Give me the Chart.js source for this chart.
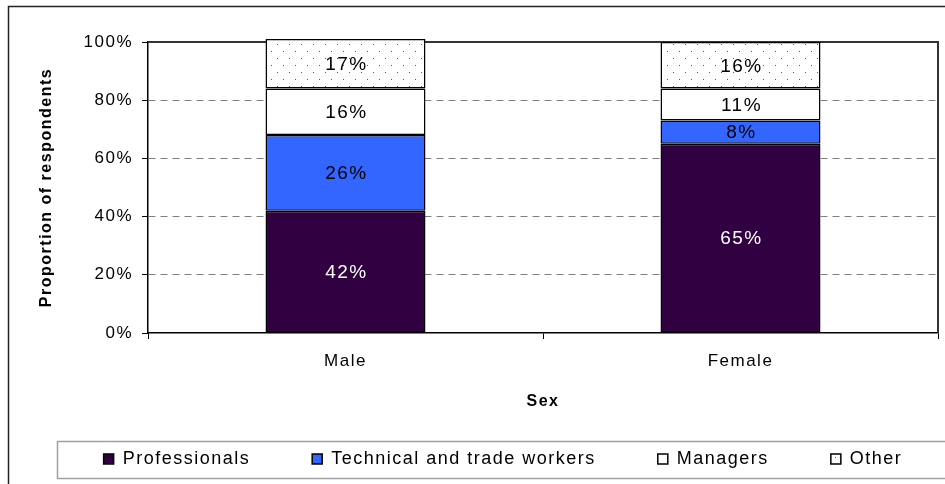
<!DOCTYPE html>
<html>
<head>
<meta charset="utf-8">
<script src="https://cdn.jsdelivr.net/npm/chart.js@4.4.1/dist/chart.umd.min.js"></script>
<style>
  html, body { margin: 0; padding: 0; background: #fff; }
  canvas { display: block; }
</style>
</head>
<body>
<canvas id="chart" width="945" height="484"></canvas>
<script>
// data
const categories = ["Male", "Female"];
const seriesNames = ["Professionals", "Technical and trade workers", "Managers", "Other"];
const professionals = [42, 65];
const technical = [26, 8];
const managers = [16, 11];
const other = [17, 16];
const yTicks = [0, 20, 40, 60, 80, 100];

Chart.defaults.font.family = "'Liberation Sans', Arial, sans-serif";
Chart.defaults.font.size = 17;
Chart.defaults.color = "#000";

// dotted fill for "Other"
function dotPattern() {
  const c = document.createElement("canvas");
  c.width = 12; c.height = 14;
  const g = c.getContext("2d");
  g.fillStyle = "#fff";
  g.fillRect(0, 0, 12, 14);
  g.fillStyle = "#4a5a90";
  g.fillRect(1, 2, 1, 1);
  g.fillRect(7, 9, 1, 1);
  return g.createPattern(c, "repeat");
}

const labelColors = ["#fff", "#000", "#000", "#000"];
const SPACING = "1.5px";

const frame = {
  id: "frame",
  beforeUpdate(chart) { chart.ctx.letterSpacing = SPACING; },
  afterLayout(chart) {
    // legend sits in its own framed strip at the bottom
    const lg = chart.legend;
    const dx = 503 - (lg.left + lg.right) / 2;
    lg.left += dx; lg.right += dx;
    lg.top = 388; lg.bottom = 484;
    lg.height = lg.bottom - lg.top;
  },
  beforeDraw(chart) { chart.ctx.letterSpacing = SPACING; },
  beforeDatasetsDraw(chart) {
    const { ctx, chartArea: a } = chart;
    ctx.save();
    ctx.strokeStyle = "#333";
    ctx.lineWidth = 2;
    ctx.beginPath();
    ctx.moveTo(a.left, a.top);
    ctx.lineTo(a.right, a.top);
    ctx.lineTo(a.right, a.bottom);
    ctx.stroke();
    ctx.restore();
  },
  afterDatasetsDraw(chart) {
    const ctx = chart.ctx;
    ctx.save();
    ctx.font = "19px 'Liberation Sans', Arial, sans-serif";
    ctx.textAlign = "center";
    ctx.textBaseline = "middle";
    chart.data.datasets.forEach((ds, i) => {
      chart.getDatasetMeta(i).data.forEach((bar, j) => {
        const { x, y, base } = bar.getProps(["x", "y", "base"], true);
        ctx.fillStyle = labelColors[i];
        ctx.fillText(ds.data[j] + "%", x + 1, (y + base) / 2 + 1);
      });
    });
    ctx.restore();
  },
  afterDraw(chart) {
    const ctx = chart.ctx;
    ctx.save();
    ctx.strokeStyle = "#a0a0a0";
    ctx.lineWidth = 1.5;
    ctx.strokeRect(57.5, 441.5, 900, 37);
    ctx.strokeStyle = "#222";
    ctx.lineWidth = 1.5;
    ctx.strokeRect(8.5, 6.5, 950, 490);
    ctx.restore();
  }
};

const pattern = dotPattern();
const fills = ["#300040", "#3366ff", "#ffffff", pattern];
const values = [professionals, technical, managers, other];

new Chart(document.getElementById("chart"), {
  type: "bar",
  data: {
    labels: categories,
    datasets: seriesNames.map((name, i) => ({
      label: name,
      data: values[i],
      backgroundColor: fills[i],
      borderColor: "#000",
      borderWidth: 1.5,
      borderSkipped: false,
      barPercentage: 0.405,
      categoryPercentage: 1,
      clip: false
    }))
  },
  options: {
    responsive: false,
    animation: false,
    layout: { padding: { top: 42, right: 7, left: 0, bottom: 0 } },
    plugins: {
      tooltip: { enabled: false },
      legend: {
        position: "bottom",
        maxHeight: 40,
        labels: {
          boxWidth: 10,
          boxHeight: 10,
          padding: 62,
          color: "#000",
          font: { size: 18 }
        }
      }
    },
    scales: {
      x: {
        stacked: true,
        afterFit(s) { s.height = 111; },
        grid: { offset: true, drawOnChartArea: false, tickLength: 6, color: "#000", lineWidth: 1 },
        border: { color: "#000", width: 1.5 },
        ticks: { padding: 12, font: { size: 17 } },
        title: { display: true, text: "Sex", font: { size: 16, weight: "bold" }, padding: { bottom: 33 } }
      },
      y: {
        stacked: true,
        min: 0,
        max: 100,
        afterFit(s) { s.width = 148; },
        afterBuildTicks(s) { s.ticks = yTicks.map(v => ({ value: v })); },
        grid: {
          color: c => (c.tick && (c.tick.value === 0 || c.tick.value === 100)) ? "rgba(0,0,0,0)" : "#808080",
          tickColor: "#000",
          tickLength: 6,
          lineWidth: 1
        },
        border: { color: "#000", width: 1.5, dash: [7, 5] },
        ticks: { padding: 9, font: { size: 17 }, callback: v => v + "%" },
        title: { display: true, text: "Proportion of respondents", font: { size: 16, weight: "bold" }, padding: { top: 37 } }
      }
    }
  },
  plugins: [frame]
});
</script>
</body>
</html>
